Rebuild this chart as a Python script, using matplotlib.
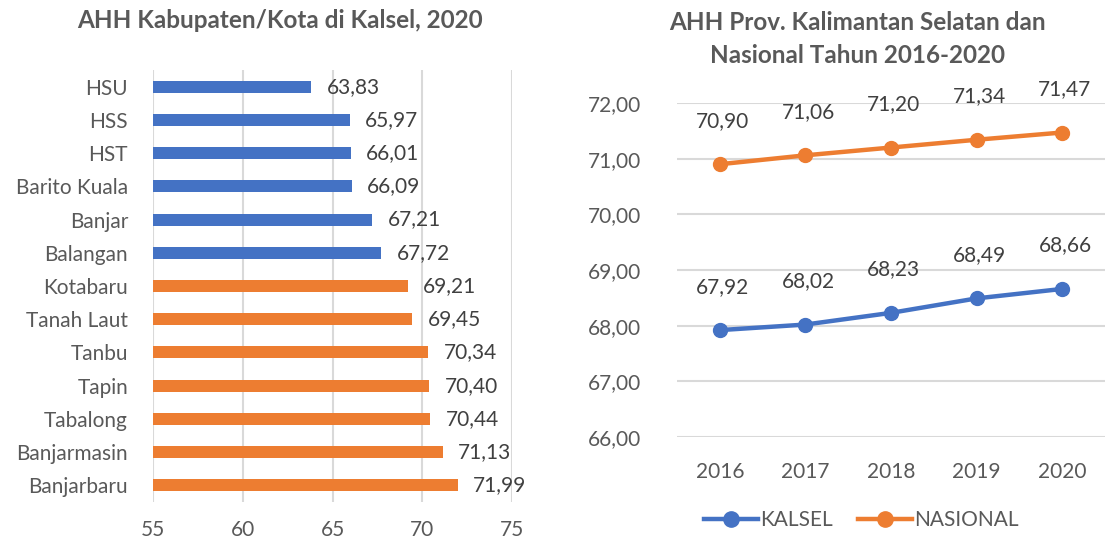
import matplotlib
matplotlib.use("Agg")
import matplotlib.pyplot as plt

regions = ["HSU", "HSS", "HST", "Barito Kuala", "Banjar", "Balangan", "Kotabaru",
           "Tanah Laut", "Tanbu", "Tapin", "Tabalong", "Banjarmasin", "Banjarbaru"]
ahh_2020 = [63.83, 65.97, 66.01, 66.09, 67.21, 67.72, 69.21,
            69.45, 70.34, 70.40, 70.44, 71.13, 71.99]
above_prov = [False] * 6 + [True] * 7

years = ["2016", "2017", "2018", "2019", "2020"]
kalsel = [67.92, 68.02, 68.23, 68.49, 68.66]
nasional = [70.90, 71.06, 71.20, 71.34, 71.47]

BLUE = "#4472C4"
ORANGE = "#ED7D31"
TXT = "#595959"
GRID = "#D9D9D9"

plt.rcParams['font.family'] = ['Lato', 'DejaVu Sans']

def fmt(v):
    return f"{v:.2f}".replace(".", ",")

W, H = 1108, 540
fig = plt.figure(figsize=(W / 100, H / 100), dpi=100)

def box(x0, y0, x1, y1):
    return [x0 / W, 1 - y1 / H, (x1 - x0) / W, (y1 - y0) / H]

# left: bar chart
ax1 = fig.add_axes(box(153, 70, 512, 502))
colors = [ORANGE if a else BLUE for a in above_prov]
pos = range(len(regions))
ax1.barh(pos, [v - 55 for v in ahh_2020], left=55, height=0.36, color=colors, zorder=2)
for i, v in enumerate(ahh_2020):
    ax1.text(v + 0.85, i, fmt(v), va="center", ha="left", fontsize=15, color="#404040")
ax1.set_xlim(55, 75)
ax1.set_ylim(12.5, -0.5)
ax1.set_xticks([55, 60, 65, 70, 75])
ax1.set_yticks(list(pos))
ax1.set_yticklabels(regions)
ax1.grid(axis="x", color=GRID, linewidth=1.5, zorder=0)
for s in ax1.spines.values():
    s.set_visible(False)
ax1.tick_params(length=0, labelsize=15, labelcolor=TXT)
ax1.tick_params(axis="y", pad=18)
ax1.tick_params(axis="x", pad=13)
fig.text(280 / W, 1 - 21 / H, "AHH Kabupaten/Kota di Kalsel, 2020", ha="center", va="center",
         fontsize=17.5, fontweight="bold", color=TXT)

# right: line chart
ax2 = fig.add_axes(box(677, 103, 1105, 437))
x = list(range(len(years)))
ax2.plot(x, kalsel, color=BLUE, lw=3.2, marker="o", ms=10, label="KALSEL", zorder=3)
ax2.plot(x, nasional, color=ORANGE, lw=3.2, marker="o", ms=10, label="NASIONAL", zorder=3)
for xi, k, n in zip(x, kalsel, nasional):
    ax2.annotate(fmt(k), (xi, k), xytext=(2, 24), textcoords="offset points",
                 ha="center", va="bottom", fontsize=15, color="#404040")
    ax2.annotate(fmt(n), (xi, n), xytext=(2, 24), textcoords="offset points",
                 ha="center", va="bottom", fontsize=15, color="#404040")
ax2.set_xlim(-0.5, 4.5)
ax2.set_ylim(66, 72)
ax2.set_yticks([66, 67, 68, 69, 70, 71, 72])
ax2.set_yticklabels([fmt(v) for v in [66, 67, 68, 69, 70, 71, 72]])
ax2.set_xticks(x)
ax2.set_xticklabels(years)
ax2.grid(axis="y", color=GRID, linewidth=1.5, zorder=0)
for s in ax2.spines.values():
    s.set_visible(False)
ax2.tick_params(length=0, labelsize=15, labelcolor=TXT)
ax2.tick_params(axis="y", pad=26)
ax2.tick_params(axis="x", pad=18)
ax2.legend(loc="center", bbox_to_anchor=(0.43, -0.25), ncol=2, frameon=False,
           fontsize=15, labelcolor=TXT, handlelength=2.6, handletextpad=0.1, columnspacing=1.2,
           markerscale=1.1)
fig.text(857 / W, 1 - 39 / H, "AHH Prov. Kalimantan Selatan dan\nNasional Tahun 2016-2020",
         ha="center", va="center", fontsize=17.5, fontweight="bold", color=TXT, linespacing=1.5)

fig.savefig("out.png", dpi=100)
